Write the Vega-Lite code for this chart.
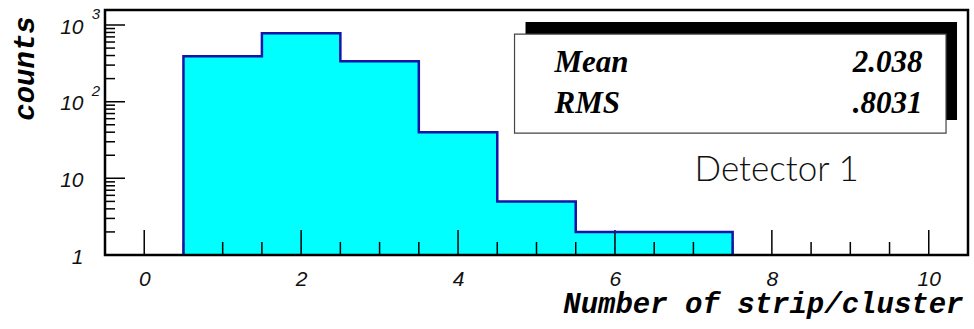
{
  "$schema": "https://vega.github.io/schema/vega-lite/v6.json",
  "width": 863,
  "height": 245,
  "autosize": {"type": "none"},
  "padding": {"left": 105, "top": 10, "right": 6, "bottom": 74},
  "background": "white",
  "config": {"view": {"stroke": null}},
  "datasets": {
    "hist": [
      {"lo": 0.5, "hi": 1.5, "count": 390},
      {"lo": 1.5, "hi": 2.5, "count": 782},
      {"lo": 2.5, "hi": 3.5, "count": 336},
      {"lo": 3.5, "hi": 4.5, "count": 40},
      {"lo": 4.5, "hi": 5.5, "count": 5},
      {"lo": 5.5, "hi": 6.5, "count": 2},
      {"lo": 6.5, "hi": 7.5, "count": 2}
    ],
    "outline": [
      {"x": 0.5, "c": 1},
      {"x": 0.5, "c": 390},
      {"x": 1.5, "c": 782},
      {"x": 2.5, "c": 336},
      {"x": 3.5, "c": 40},
      {"x": 4.5, "c": 5},
      {"x": 5.5, "c": 2},
      {"x": 6.5, "c": 2},
      {"x": 7.5, "c": 1}
    ],
    "xmajor": [{"v": 0}, {"v": 2}, {"v": 4}, {"v": 6}, {"v": 8}, {"v": 10}],
    "xminor": [{"v": 0.5}, {"v": 1}, {"v": 1.5}, {"v": 2.5}, {"v": 3}, {"v": 3.5}, {"v": 4.5}, {"v": 5}, {"v": 5.5}, {"v": 6.5}, {"v": 7}, {"v": 7.5}, {"v": 8.5}, {"v": 9}, {"v": 9.5}],
    "ymajor": [{"v": 10}, {"v": 100}, {"v": 1000}],
    "yminor": [{"v": 2}, {"v": 3}, {"v": 4}, {"v": 5}, {"v": 6}, {"v": 7}, {"v": 8}, {"v": 9},
               {"v": 20}, {"v": 30}, {"v": 40}, {"v": 50}, {"v": 60}, {"v": 70}, {"v": 80}, {"v": 90},
               {"v": 200}, {"v": 300}, {"v": 400}, {"v": 500}, {"v": 600}, {"v": 700}, {"v": 800}, {"v": 900}],
    "sup": [{"e": "3", "v": 1000}, {"e": "2", "v": 100}],
    "stats": [{"stat": "Mean", "val": "2.038"}, {"stat": "RMS", "val": ".8031"}]
  },
  "layer": [
    {
      "data": {"name": "hist"},
      "mark": {"type": "rect", "fill": "#00ffff", "stroke": "#00ffff", "strokeWidth": 1, "clip": true},
      "encoding": {
        "x": {
          "field": "lo", "type": "quantitative",
          "scale": {"domain": [-0.5, 10.5], "nice": false, "zero": false},
          "axis": {
            "values": [0, 2, 4, 6, 8, 10], "format": "d",
            "ticks": false, "domain": false, "grid": false,
            "labelFont": "Liberation Sans", "labelFontStyle": "italic", "labelFontSize": 21,
            "labelColor": "#111", "labelPadding": 30, "labelBaseline": "alphabetic", "labelFlush": false,
            "title": "Number of strip/cluster",
            "titleFont": "Liberation Mono", "titleFontSize": 29, "titleFontWeight": "bold", "titleFontStyle": "italic",
            "titleColor": "black", "titleX": 858, "titleY": 57, "titleAlign": "right", "titleBaseline": "alphabetic"
          }
        },
        "x2": {"field": "hi"},
        "y": {
          "field": "count", "type": "quantitative",
          "scale": {"type": "log", "domain": [1, 1570], "nice": false},
          "axis": {
            "values": [1, 10, 100, 1000],
            "labelExpr": "datum.value >= 10 ? '10' : '1'",
            "ticks": false, "domain": false, "grid": false,
            "labelFont": "Liberation Sans", "labelFontStyle": "italic", "labelFontSize": 21,
            "labelColor": "#111", "labelPadding": 22, "labelOffset": 2, "labelBaseline": "middle",
            "title": "counts",
            "titleFont": "Liberation Mono", "titleFontSize": 29, "titleFontWeight": "bold", "titleFontStyle": "italic",
            "titleColor": "black", "titleX": -72, "titleY": 58, "titleAlign": "center", "titleBaseline": "alphabetic"
          }
        },
        "y2": {"datum": 1}
      }
    },
    {
      "data": {"name": "xmajor"},
      "mark": {"type": "tick", "orient": "vertical", "size": 50, "thickness": 1.5, "color": "black", "opacity": 1, "clip": true},
      "encoding": {"x": {"field": "v", "type": "quantitative"}, "y": {"datum": 1}}
    },
    {
      "data": {"name": "xminor"},
      "mark": {"type": "tick", "orient": "vertical", "size": 26, "thickness": 1.5, "color": "black", "opacity": 1, "clip": true},
      "encoding": {"x": {"field": "v", "type": "quantitative"}, "y": {"datum": 1}}
    },
    {
      "data": {"name": "ymajor"},
      "mark": {"type": "tick", "orient": "horizontal", "size": 40, "thickness": 1.5, "color": "black", "opacity": 1, "clip": true},
      "encoding": {"y": {"field": "v", "type": "quantitative"}, "x": {"datum": -0.5}}
    },
    {
      "data": {"name": "yminor"},
      "mark": {"type": "tick", "orient": "horizontal", "size": 20, "thickness": 1.5, "color": "black", "opacity": 1, "clip": true},
      "encoding": {"y": {"field": "v", "type": "quantitative"}, "x": {"datum": -0.5}}
    },
    {
      "data": {"name": "outline"},
      "mark": {"type": "line", "interpolate": "step-after", "color": "#1414a8", "strokeWidth": 2.5},
      "encoding": {"x": {"field": "x", "type": "quantitative"}, "y": {"field": "c", "type": "quantitative"}}
    },
    {
      "data": {"values": [{}]},
      "mark": {"type": "rect", "filled": false, "stroke": "black", "strokeWidth": 2.5, "opacity": 1},
      "encoding": {"x": {"datum": -0.5}, "x2": {"datum": 10.5}, "y": {"datum": 1}, "y2": {"datum": 1570}}
    },
    {
      "data": {"values": [{}]},
      "mark": {"type": "rect", "fill": "black"},
      "encoding": {"x": {"datum": 4.86}, "x2": {"datum": 10.36}, "y": {"datum": 57.5}, "y2": {"datum": 1091}}
    },
    {
      "data": {"values": [{}]},
      "mark": {"type": "rect", "fill": "white", "stroke": "#444", "strokeWidth": 1.2},
      "encoding": {"x": {"datum": 4.72}, "x2": {"datum": 10.22}, "y": {"datum": 39}, "y2": {"datum": 761}}
    },
    {
      "data": {"name": "stats"},
      "transform": [{"filter": "datum.stat == 'Mean'"}],
      "mark": {"type": "text", "align": "left", "baseline": "alphabetic", "font": "Liberation Serif", "fontSize": 31, "fontWeight": "bold", "fontStyle": "italic", "color": "black"},
      "encoding": {"x": {"datum": 5.23}, "y": {"datum": 245}, "text": {"field": "stat"}}
    },
    {
      "data": {"name": "stats"},
      "transform": [{"filter": "datum.stat == 'Mean'"}],
      "mark": {"type": "text", "align": "right", "baseline": "alphabetic", "font": "Liberation Serif", "fontSize": 31, "fontWeight": "bold", "fontStyle": "italic", "color": "black"},
      "encoding": {"x": {"datum": 9.92}, "y": {"datum": 245}, "text": {"field": "val"}}
    },
    {
      "data": {"name": "stats"},
      "transform": [{"filter": "datum.stat == 'RMS'"}],
      "mark": {"type": "text", "align": "left", "baseline": "alphabetic", "font": "Liberation Serif", "fontSize": 31, "fontWeight": "bold", "fontStyle": "italic", "color": "black"},
      "encoding": {"x": {"datum": 5.23}, "y": {"datum": 71.6}, "text": {"field": "stat"}}
    },
    {
      "data": {"name": "stats"},
      "transform": [{"filter": "datum.stat == 'RMS'"}],
      "mark": {"type": "text", "align": "right", "baseline": "alphabetic", "font": "Liberation Serif", "fontSize": 31, "fontWeight": "bold", "fontStyle": "italic", "color": "black"},
      "encoding": {"x": {"datum": 9.92}, "y": {"datum": 71.6}, "text": {"field": "val"}}
    },
    {
      "data": {"values": [{"label": "Detector 1"}]},
      "mark": {"type": "text", "align": "left", "baseline": "alphabetic", "font": "Lato", "fontSize": 35, "fontWeight": 300, "color": "#111"},
      "encoding": {"x": {"datum": 7.015}, "y": {"datum": 9.22}, "text": {"field": "label"}}
    },
    {
      "data": {"name": "sup"},
      "mark": {"type": "text", "align": "center", "baseline": "middle", "font": "Liberation Sans", "fontSize": 15, "fontStyle": "italic", "color": "#111", "dx": -9, "dy": -11},
      "encoding": {"x": {"datum": -0.5}, "y": {"field": "v", "type": "quantitative"}, "text": {"field": "e"}}
    }
  ]
}
